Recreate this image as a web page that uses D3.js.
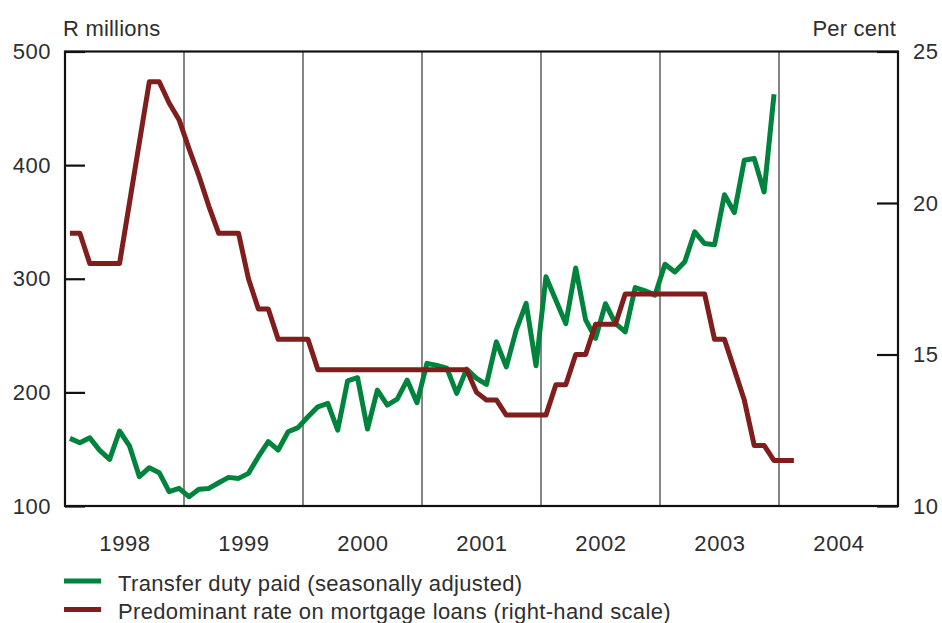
<!DOCTYPE html>
<html>
<head>
<meta charset="utf-8">
<script src="https://cdn.jsdelivr.net/npm/d3@7/dist/d3.min.js"></script>
<style>
  html, body { margin: 0; padding: 0; background: #fff; }
  svg { display: block; }
  text { font-family: "Liberation Sans", Arial, sans-serif; fill: #2e2e2e; }
</style>
</head>
<body>
<svg id="chart" width="942" height="623"></svg>
<script>
// ---- Data (monthly, starting January 1998) ----
const years = ["1998", "1999", "2000", "2001", "2002", "2003", "2004"];
const leftTicks = [100, 200, 300, 400, 500];
const rightTicks = [10, 15, 20, 25];

// Transfer duty paid (seasonally adjusted), R millions, Jan 1998 - Dec 2003
const transferDuty = [
  159.5, 155.7, 160, 149, 141, 166, 153, 125.8, 133.7, 129.3, 112.6, 115.5,
  108.2, 114.7, 115.5, 120.5, 125.2, 124.3, 128.7, 143.4, 156.6, 149.3, 165.4, 169,
  178.5, 187.3, 190.3, 166.8, 210.2, 212.9, 167.7, 202, 188.8, 194, 210.8, 190.9,
  225.5, 223.7, 221.4, 199.1, 220.5, 212.3, 207, 244.5, 222.5, 254.8, 278.3, 223.4,
  301.7, 281, 260.5, 309.5, 263.8, 247.5, 278, 260.7, 253.3, 292.3, 289.4, 285.6,
  312.8, 306, 314.9, 341.3, 331, 330, 374, 358.3, 404.3, 405.8, 376.4, 462.4
];

// Predominant rate on mortgage loans, per cent, Jan 1998 - Feb 2004
const mortgageRate = [
  19, 19, 18, 18, 18, 18, 20, 22, 24, 24, 23.3, 22.75,
  21.8, 20.9, 19.9, 19, 19, 19, 17.5, 16.5, 16.5, 15.5, 15.5, 15.5,
  15.5, 14.5, 14.5, 14.5, 14.5, 14.5, 14.5, 14.5, 14.5, 14.5, 14.5, 14.5,
  14.5, 14.5, 14.5, 14.5, 14.5, 13.75, 13.5, 13.5, 13, 13, 13, 13,
  13, 14, 14, 15, 15, 16, 16, 16, 17, 17, 17, 17,
  17, 17, 17, 17, 17, 15.5, 15.5, 14.5, 13.5, 12, 12, 11.5,
  11.5, 11.5
];

const legendLabels = [
  "Transfer duty paid (seasonally adjusted)",
  "Predominant rate on mortgage loans (right-hand scale)"
];
const colors = { green: "#00843d", red: "#7f1e1d" };

// ---- Layout ----
const L = 65, R = 898, T = 51.5, B = 506;
const svg = d3.select("#chart");

const x = d3.scaleLinear().domain([0, years.length * 12]).range([L, R]);
const yL = d3.scaleLinear().domain([100, 500]).range([B, T]);
const yR = d3.scaleLinear().domain([10, 25]).range([B, T]);

// Year separator lines
svg.append("g").selectAll("line")
  .data(d3.range(1, years.length))
  .join("line")
  .attr("x1", i => x(i * 12)).attr("x2", i => x(i * 12))
  .attr("y1", T).attr("y2", B)
  .attr("stroke", "#222").attr("stroke-width", 1.1);

// Left axis
const axL = svg.append("g").attr("transform", `translate(${L},0)`)
  .call(d3.axisLeft(yL).tickValues(leftTicks).tickSize(-20).tickPadding(14).tickFormat(d3.format("d")));
axL.select(".domain").remove();
axL.selectAll(".tick line").attr("stroke", "#111").attr("stroke-width", 2.2);
axL.selectAll(".tick text").style("font-size", "22px").style("letter-spacing", "0.5px").attr("fill", "#2e2e2e");

// Right axis
const axR = svg.append("g").attr("transform", `translate(${R},0)`)
  .call(d3.axisRight(yR).tickValues(rightTicks).tickSize(-21).tickPadding(15).tickFormat(d3.format("d")));
axR.select(".domain").remove();
axR.selectAll(".tick line").attr("stroke", "#111").attr("stroke-width", 2.2);
axR.selectAll(".tick text").style("font-size", "22px").style("letter-spacing", "0.5px").attr("fill", "#2e2e2e");

// Bottom year labels
const axB = svg.append("g").attr("transform", `translate(0,${B})`)
  .call(d3.axisBottom(x).tickValues(years.map((y, i) => i * 12 + 6)).tickSize(0).tickPadding(29)
    .tickFormat((d, i) => years[i]));
axB.select(".domain").remove();
axB.selectAll(".tick text").style("font-size", "22px").style("letter-spacing", "0.6px").attr("fill", "#2e2e2e");

// Frame
svg.append("rect")
  .attr("x", L).attr("y", T).attr("width", R - L).attr("height", B - T)
  .attr("fill", "none").attr("stroke", "#111").attr("stroke-width", 2.2);

// Lines
const lineL = d3.line().x((d, i) => x(i + 0.5)).y(d => yL(d));
const lineR = d3.line().x((d, i) => x(i + 0.5)).y(d => yR(d));

svg.append("path").datum(transferDuty)
  .attr("d", lineL).attr("fill", "none")
  .attr("stroke", colors.green).attr("stroke-width", 5).attr("stroke-linejoin", "round");

svg.append("path").datum(mortgageRate)
  .attr("d", lineR).attr("fill", "none")
  .attr("stroke", colors.red).attr("stroke-width", 5).attr("stroke-linejoin", "round");

// Axis titles
svg.append("text").attr("x", 63).attr("y", 36).style("font-size", "22px").style("letter-spacing", "0.2px").text("R millions");
svg.append("text").attr("x", 896).attr("y", 36).attr("text-anchor", "end").style("font-size", "22px").style("letter-spacing", "0.2px").text("Per cent");

// Legend
const lg = svg.append("g");
[colors.green, colors.red].forEach((c, i) => {
  const yy = 581 + i * 28.5;
  lg.append("line").attr("x1", 64).attr("x2", 101).attr("y1", yy).attr("y2", yy)
    .attr("stroke", c).attr("stroke-width", 5);
  lg.append("text").attr("x", 118).attr("y", yy + 9.5).style("font-size", "22px")
    .style("letter-spacing", "0.35px").text(legendLabels[i]);
});
</script>
</body>
</html>
